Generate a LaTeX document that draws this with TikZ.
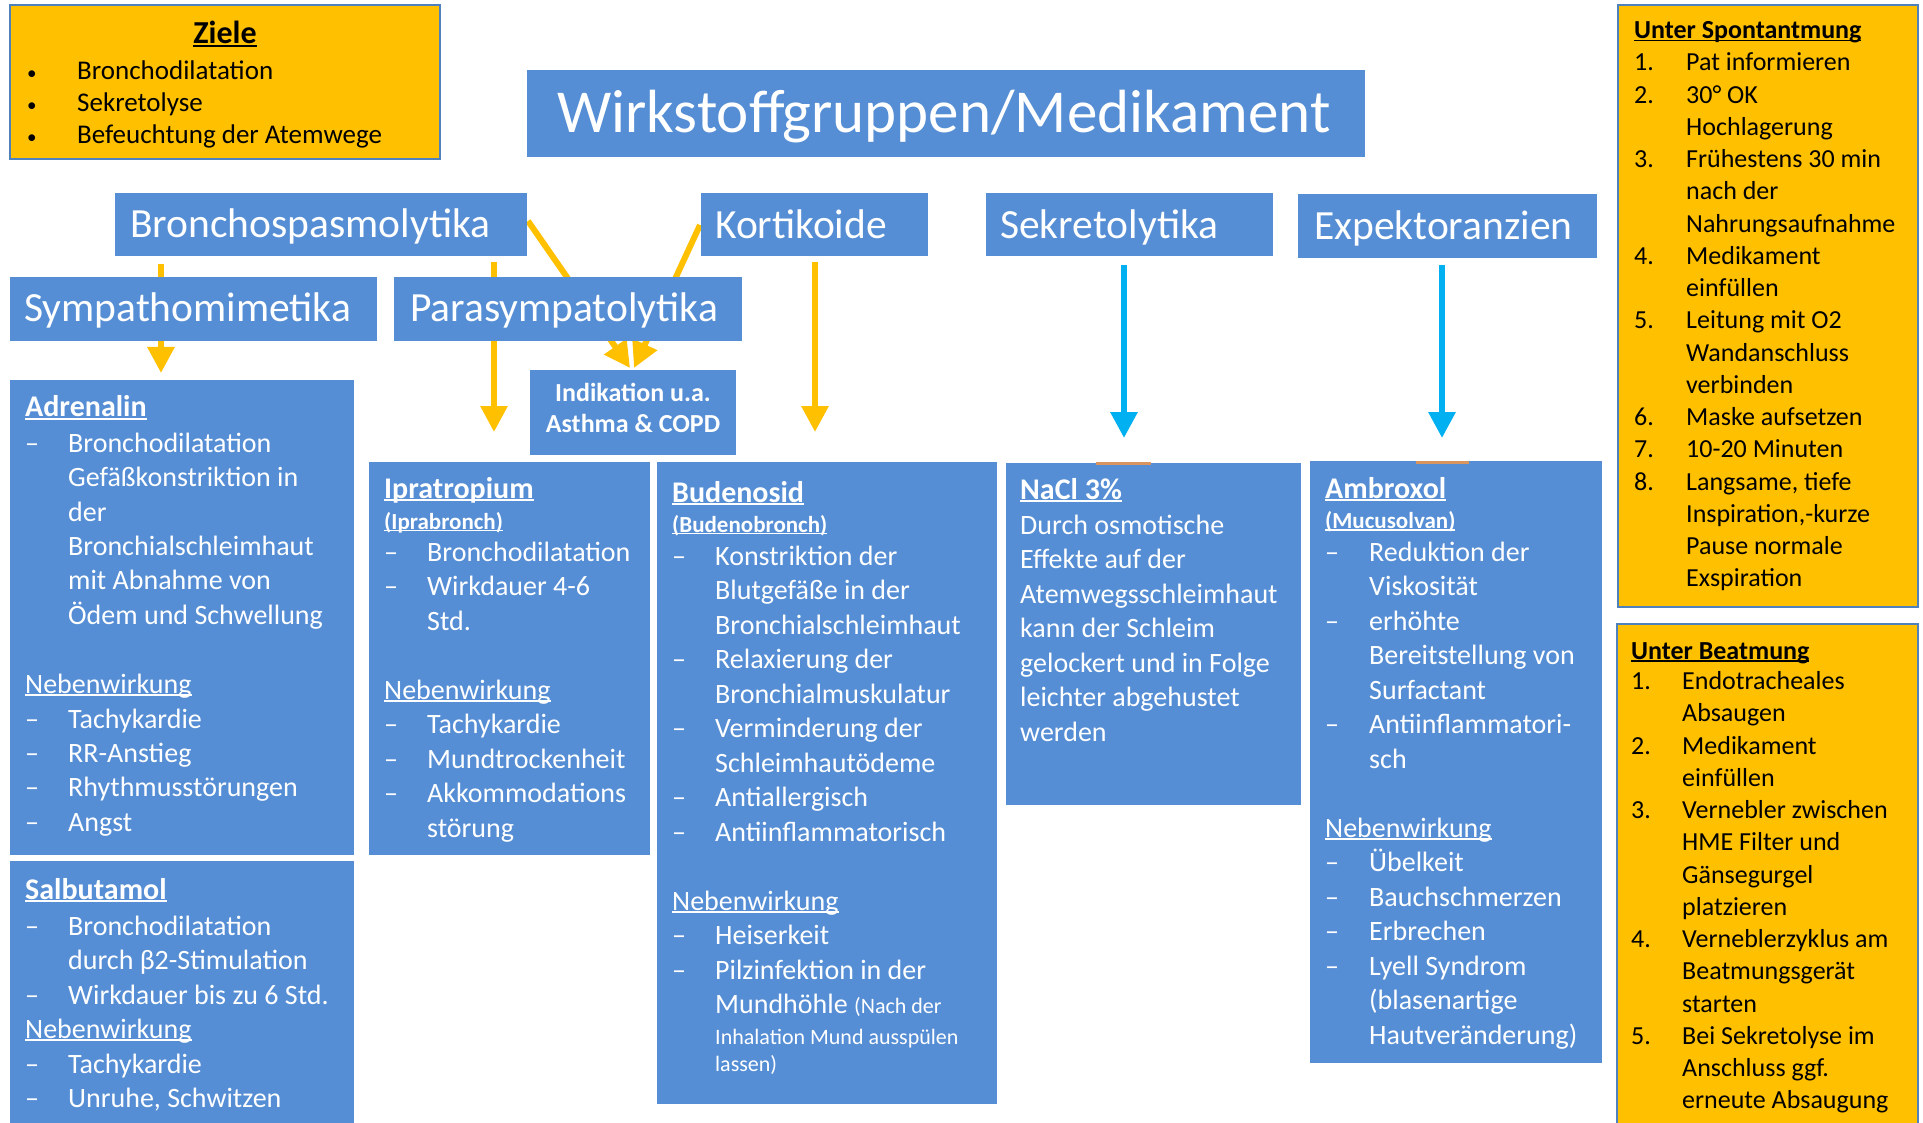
\documentclass[tikz,border=0pt]{standalone}
\usepackage{fontspec}
\setmainfont{Carlito}
\usetikzlibrary{arrows.meta}
\definecolor{boxblue}{HTML}{558ED5}
\definecolor{gold}{HTML}{FFC000}
\definecolor{skyc}{HTML}{00B0F0}
\definecolor{edgeblue}{HTML}{4F81BD}
\definecolor{tanbar}{HTML}{D99560}
\newlength\indw
\newcommand\dashln[1]{\makebox[\indw][l]{–}#1}
\newcommand\contln[1]{\hspace*{\indw}#1}
\newcommand\numln[2]{\makebox[\indw][l]{#1}#2}
\newcommand\smbul{{\fontsize{19}{20}\selectfont •}}
\newcommand\ulin[1]{\setbox0\hbox{#1}\rlap{\rule[-0.1em]{\wd0}{0.065em}}\box0}
\begin{document}
\begin{tikzpicture}[x=1pt,y=-1pt,
  box/.style={anchor=north west, inner sep=0pt, outer sep=0pt, fill=boxblue, draw=none},
  obox/.style={anchor=north west, inner sep=0pt, outer sep=0pt, fill=gold, draw=edgeblue, line width=2.5pt},
  cat/.style={anchor=base west, inner sep=0pt, text=white, font=\fontsize{41.5}{50}\selectfont},
  ttl/.style={anchor=base west, inner sep=0pt, text=white, font=\bfseries\fontsize{30}{36}\selectfont},
  subt/.style={anchor=base west, inner sep=0pt, text=white, font=\bfseries\fontsize{23}{27}\selectfont},
  bodyw/.style={anchor=base west, inner sep=0pt, text=white, font=\fontsize{28}{34.5}\selectfont},
  bodyk/.style={anchor=base west, inner sep=0pt, text=black, font=\fontsize{26}{32.25}\selectfont},
  ttlk/.style={anchor=base west, inner sep=0pt, text=black, font=\bfseries\fontsize{26}{32}\selectfont},
  arr/.style={line width=6pt, -{Triangle[width=26pt,length=26pt]}},
  bar/.style={draw=tanbar, line width=3pt}
]
\useasboundingbox (0,0) rectangle (1923,1123);
\fill[white] (0,0) rectangle (1923,1123);

% arrow end points
\coordinate (a1s) at (161,264);  \coordinate (a1e) at (161,373);
\coordinate (a2s) at (494,262);  \coordinate (a2e) at (494,432);
\coordinate (a3s) at (528,221);  \coordinate (a3e) at (630,368);
\coordinate (a4s) at (700,225);  \coordinate (a4e) at (634,368);
\coordinate (a5s) at (815,262);  \coordinate (a5e) at (815,432);
\coordinate (a6s) at (1124,265); \coordinate (a6e) at (1124,438);
\coordinate (a7s) at (1442,265); \coordinate (a7e) at (1442,438);

\draw[arr, gold] (a1s) -- (a1e);
\draw[arr, gold] (a2s) -- (a2e);
\draw[arr, gold] (a3s) -- (a3e);
\draw[arr, gold] (a4s) -- (a4e);
\draw[arr, gold] (a5s) -- (a5e);
\draw[arr, skyc] (a6s) -- (a6e);
\draw[arr, skyc] (a7s) -- (a7e);

% boxes
\node[obox, minimum width=430, minimum height=154] (zi) at (10,5) {};
\node[box, minimum width=838, minimum height=87] (tb) at (527,70) {};
\node[box, minimum width=412, minimum height=63] (bs) at (115,193) {};
\node[box, minimum width=227, minimum height=63] (ko) at (701,193) {};
\node[box, minimum width=287, minimum height=63] (se) at (986,193) {};
\node[box, minimum width=299, minimum height=64] (ex) at (1298,194) {};
\node[box, minimum width=367, minimum height=64] (sy) at (10,277) {};
\node[box, minimum width=348, minimum height=64] (pa) at (394,277) {};
\node[box, minimum width=206, minimum height=85] (ind) at (530,370) {};
\node[box, minimum width=344, minimum height=475] (adr) at (10,380) {};
\node[box, minimum width=344, minimum height=269] (sal) at (10,861) {};
\node[box, minimum width=281, minimum height=393] (ipr) at (369,462) {};
\node[box, minimum width=340, minimum height=642] (bud) at (657,462) {};
\node[box, minimum width=295, minimum height=342] (nacl) at (1006,463) {};
\node[box, minimum width=292, minimum height=602] (amb) at (1310,461) {};
\node[obox, minimum width=300, minimum height=602] (spo) at (1618,5) {};
\node[obox, minimum width=301, minimum height=516] (bea) at (1617,624) {};

\coordinate (b1s) at (1096,463); \coordinate (b1e) at (1151,463);
\coordinate (b2s) at (1416,462); \coordinate (b2e) at (1469,462);
\draw[bar] (b1s) -- (b1e);
\draw[bar] (b2s) -- (b2e);

% Ziele
\node[anchor=base, inner sep=0pt, font=\bfseries\fontsize{32}{38}\selectfont] (zit) at (225,44) {\ulin{Ziele}};
\node[anchor=base west, inner sep=0pt, font=\fontsize{27}{32}\selectfont] (zib) at (27,80)
  {\setlength\indw{50pt}\begin{tabular}[t]{@{}l@{}}\numln{\smbul}{Bronchodilatation}\\ \numln{\smbul}{Sekretolyse}\\ \numln{\smbul}{Befeuchtung der Atemwege}\end{tabular}};

% title and categories
\node[anchor=base west, inner sep=0pt, text=white, font=\fontsize{61}{72}\selectfont] (tt) at (557,133) {Wirkstoffgruppen/Medikament};
\node[cat] (bst) at (130,238) {Bronchospasmolytika};
\node[cat] (kot) at (715,239) {Kortikoide};
\node[cat] (set) at (1000,239) {Sekretolytika};
\node[cat] (ext) at (1314,240) {Expektoranzien};
\node[cat] (syt) at (24,322) {Sympathomimetika};
\node[cat] (pat) at (410,322) {Parasympatolytika};

\node[anchor=base, inner sep=0pt, text=white, font=\bfseries\fontsize{26}{31.5}\selectfont] (indt) at (633,401)
  {\begin{tabular}[t]{@{}c@{}}Indikation u.a.\\ Asthma \& COPD\end{tabular}};

% Adrenalin
\node[ttl] (adrt) at (25,416.6) {\ulin{Adrenalin}};
\node[bodyw] (adrb) at (25,452) {\setlength\indw{43pt}\begin{tabular}[t]{@{}l@{}}
\dashln{Bronchodilatation}\\
\contln{Gefäßkonstriktion in}\\
\contln{der}\\
\contln{Bronchialschleimhaut}\\
\contln{mit Abnahme von}\\
\contln{Ödem und Schwellung}\\
\\
\ulin{Nebenwirkung}\\
\dashln{Tachykardie}\\
\dashln{RR-Anstieg}\\
\dashln{Rhythmusstörungen}\\
\dashln{Angst}
\end{tabular}};

% Salbutamol
\node[ttl] (salt) at (25,899) {\ulin{Salbutamol}};
\node[bodyw] (salb) at (25,935) {\setlength\indw{43pt}\begin{tabular}[t]{@{}l@{}}
\dashln{Bronchodilatation}\\
\contln{durch β2-Stimulation}\\
\dashln{Wirkdauer bis zu 6 Std.}\\
\ulin{Nebenwirkung}\\
\dashln{Tachykardie}\\
\dashln{Unruhe, Schwitzen}
\end{tabular}};

% Ipratropium
\node[ttl] (iprt) at (384,498) {\ulin{Ipratropium}};
\node[subt] (iprs) at (384,529) {\ulin{(Iprabronch)}};
\node[bodyw] (iprb) at (384,561) {\setlength\indw{43pt}\begin{tabular}[t]{@{}l@{}}
\dashln{Bronchodilatation}\\
\dashln{Wirkdauer 4-6}\\
\contln{Std.}\\
\\
\ulin{Nebenwirkung}\\
\dashln{Tachykardie}\\
\dashln{Mundtrockenheit}\\
\dashln{Akkommodations}\\
\contln{störung}
\end{tabular}};

% Budenosid
\node[ttl] (budt) at (672,502) {\ulin{Budenosid}};
\node[subt] (buds) at (672,532) {\ulin{(Budenobronch)}};
\node[bodyw] (budb) at (672,565) {\setlength\indw{43pt}\begin{tabular}[t]{@{}l@{}}
\dashln{Konstriktion der}\\
\contln{Blutgefäße in der}\\
\contln{Bronchialschleimhaut}\\
\dashln{Relaxierung der}\\
\contln{Bronchialmuskulatur}\\
\dashln{Verminderung der}\\
\contln{Schleimhautödeme}\\
\dashln{Antiallergisch}\\
\dashln{Antiinflammatorisch}\\
\\
\ulin{Nebenwirkung}\\
\dashln{Heiserkeit}\\
\dashln{Pilzinfektion in der}\\
\contln{Mundhöhle {\fontsize{22}{27}\selectfont (Nach der}}
\end{tabular}};
\node[anchor=base west, inner sep=0pt, text=white, font=\fontsize{22}{27}\selectfont] (budn) at (715,1044)
  {\begin{tabular}[t]{@{}l@{}}Inhalation Mund ausspülen\\ lassen)\end{tabular}};

% NaCl
\node[ttl] (naclt) at (1020,499) {\ulin{NaCl 3\%}};
\node[bodyw] (naclb) at (1020,534) {\begin{tabular}[t]{@{}l@{}}
Durch osmotische\\
Effekte auf der\\
Atemwegsschleimhaut\\
kann der Schleim\\
gelockert und in Folge\\
leichter abgehustet\\
werden
\end{tabular}};

% Ambroxol
\node[ttl] (ambt) at (1325,498) {\ulin{Ambroxol}};
\node[subt] (ambs) at (1325,528.5) {\ulin{(Mucusolvan)}};
\node[bodyw] (ambb) at (1325,561) {\setlength\indw{44pt}\begin{tabular}[t]{@{}l@{}}
\dashln{Reduktion der}\\
\contln{Viskosität}\\
\dashln{erhöhte}\\
\contln{Bereitstellung von}\\
\contln{Surfactant}\\
\dashln{Antiinflammatori-}\\
\contln{sch}\\
\\
\ulin{Nebenwirkung}\\
\dashln{Übelkeit}\\
\dashln{Bauchschmerzen}\\
\dashln{Erbrechen}\\
\dashln{Lyell Syndrom}\\
\contln{(blasenartige}\\
\contln{Hautveränderung)}
\end{tabular}};

% Unter Spontanatmung
\node[ttlk] (spot) at (1634,38.7) {\ulin{Unter Spontantmung}};
\node[bodyk] (spob) at (1634,71) {\setlength\indw{52pt}\begin{tabular}[t]{@{}l@{}}
\numln{1.}{Pat informieren}\\
\numln{2.}{30° OK}\\
\contln{Hochlagerung}\\
\numln{3.}{Frühestens 30 min}\\
\contln{nach der}\\
\contln{Nahrungsaufnahme}\\
\numln{4.}{Medikament}\\
\contln{einfüllen}\\
\numln{5.}{Leitung mit O2}\\
\contln{Wandanschluss}\\
\contln{verbinden}\\
\numln{6.}{Maske aufsetzen}\\
\numln{7.}{10-20 Minuten}\\
\numln{8.}{Langsame, tiefe}\\
\contln{Inspiration,-kurze}\\
\contln{Pause normale}\\
\contln{Exspiration}
\end{tabular}};

% Unter Beatmung
\node[ttlk] (beat) at (1631,659) {\ulin{Unter Beatmung}};
\node[bodyk] (beab) at (1631,689.5) {\setlength\indw{51pt}\begin{tabular}[t]{@{}l@{}}
\numln{1.}{Endotracheales}\\
\contln{Absaugen}\\
\numln{2.}{Medikament}\\
\contln{einfüllen}\\
\numln{3.}{Vernebler zwischen}\\
\contln{HME Filter und}\\
\contln{Gänsegurgel}\\
\contln{platzieren}\\
\numln{4.}{Verneblerzyklus am}\\
\contln{Beatmungsgerät}\\
\contln{starten}\\
\numln{5.}{Bei Sekretolyse im}\\
\contln{Anschluss ggf.}\\
\contln{erneute Absaugung}
\end{tabular}};
\end{tikzpicture}
\end{document}
